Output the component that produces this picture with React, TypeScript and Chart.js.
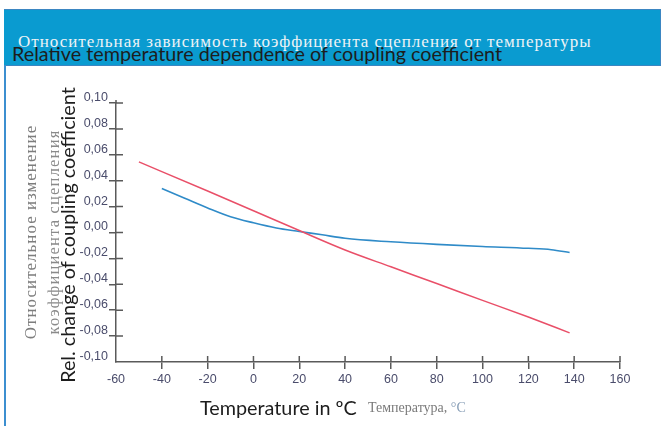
import React, { useEffect, useRef } from "react";
import { Chart, registerables } from "chart.js";

Chart.register(...registerables);

// ---- data ----
const xTicks = [-60, -40, -20, 0, 20, 40, 60, 80, 100, 120, 140, 160];
const yTicks = [-0.1, -0.08, -0.06, -0.04, -0.02, 0, 0.02, 0.04, 0.06, 0.08, 0.1];

const redTemps = [-50, -20, 0, 20, 40, 60, 80, 100, 120, 138];
const redValues = [0.0545, 0.032, 0.0168, 0.0015, -0.0135, -0.0265, -0.0394, -0.0524, -0.0653, -0.0775];

const blueTemps = [-40, -30, -20, -10, 0, 10, 20, 30, 40, 60, 80, 100, 120, 130, 138];
const blueValues = [0.034, 0.0265, 0.019, 0.0122, 0.0075, 0.0035, 0.0008, -0.0018, -0.0045, -0.0072, -0.0092, -0.0108, -0.0122, -0.0133, -0.0155];

const titleRu = "Относительная зависимость коэффициента сцепления от температуры";
const titleEn = "Relative temperature dependence of coupling coefficient";
const yTitleRu1 = "Относительное изменение";
const yTitleRu2 = "коэффициента сцепления";
const yTitleEn = "Rel. change of coupling coefficient";
const xTitleEn = "Temperature in ºC";
const xTitleRu = "Температура,";
const xTitleRuUnit = "°C";

// ---- styles ----
const AXIS = "#5a5a5a";
const TICK_LABEL = "#4a4c6b";
const RED = "#e94f68";
const BLUE = "#2f8bc8";
const BAND = "#0a9bd0";
const SANS = "Lato, 'Open Sans', sans-serif";
const SERIF = "'Liberation Serif', 'DejaVu Serif', serif";
const TICK_FONT = "'Liberation Sans', Arial, sans-serif";
const EN_SIZE = 19.8;

const innerTicks = {
  id: "innerTicks",
  beforeDatasetsDraw(chart: any) {
    const { ctx, chartArea } = chart;
    const xs = chart.scales.x;
    const ys = chart.scales.y;
    ctx.save();
    ctx.strokeStyle = AXIS;
    ctx.lineWidth = 1.5;
    ctx.beginPath();
    xs.ticks.forEach((t: any) => {
      if (t.value === xs.min) return;
      const px = xs.getPixelForValue(t.value);
      ctx.moveTo(px, chartArea.bottom);
      ctx.lineTo(px, chartArea.bottom - 6);
    });
    ys.ticks.forEach((t: any) => {
      if (t.value === ys.min) return;
      const py = ys.getPixelForValue(t.value);
      ctx.moveTo(chartArea.left, py);
      ctx.lineTo(chartArea.left + 7, py);
    });
    ctx.moveTo(chartArea.left, chartArea.top);
    ctx.lineTo(chartArea.left, chartArea.top - 3);
    ctx.stroke();
    ctx.restore();
  },
};

function fmt(v: number) {
  const n = Math.abs(v) < 1e-9 ? 0 : v;
  return n.toFixed(2).replace(".", ",");
}

export default function App() {
  const ref = useRef<HTMLCanvasElement | null>(null);

  useEffect(() => {
    if (!ref.current) return;
    const chart = new Chart(ref.current, {
      type: "line",
      data: {
        datasets: [
          {
            data: redTemps.map((t, i) => ({ x: t, y: redValues[i] })),
            borderColor: RED,
            borderWidth: 1.5,
            pointRadius: 0,
            cubicInterpolationMode: "monotone",
          },
          {
            data: blueTemps.map((t, i) => ({ x: t, y: blueValues[i] })),
            borderColor: BLUE,
            borderWidth: 1.6,
            pointRadius: 0,
            cubicInterpolationMode: "monotone",
          },
        ],
      },
      options: {
        responsive: false,
        animation: false,
        events: [],
        layout: { padding: { left: 76, right: 43, top: 103, bottom: 34 } },
        plugins: { legend: { display: false }, tooltip: { enabled: false } },
        scales: {
          x: {
            type: "linear",
            min: -60,
            max: 160,
            afterBuildTicks: (s: any) => {
              s.ticks = xTicks.map((v) => ({ value: v }));
            },
            afterFit: (s: any) => {
              s.height = 30;
            },
            ticks: {
              autoSkip: false,
              maxRotation: 0,
              padding: 3,
              color: TICK_LABEL,
              font: { family: TICK_FONT, size: 12.5 },
              callback: (v: any) => String(v),
            },
            grid: {
              drawOnChartArea: false,
              drawTicks: true,
              tickLength: 7,
              lineWidth: 1.5,
              color: (c: any) => (c.tick && c.tick.value === -60 ? "rgba(0,0,0,0)" : AXIS),
            },
            border: { display: true, color: AXIS, width: 1.5 },
          },
          y: {
            type: "linear",
            min: -0.1,
            max: 0.1,
            afterBuildTicks: (s: any) => {
              s.ticks = yTicks.map((v) => ({ value: v }));
            },
            afterFit: (s: any) => {
              s.width = 40;
            },
            ticks: {
              autoSkip: false,
              padding: 1,
              labelOffset: -5.5,
              color: TICK_LABEL,
              font: { family: TICK_FONT, size: 12.5 },
              callback: (v: any) => fmt(Number(v)),
            },
            grid: {
              drawOnChartArea: false,
              drawTicks: true,
              tickLength: 7,
              lineWidth: 1.5,
              color: (c: any) => (c.tick && Math.abs(c.tick.value + 0.1) < 1e-9 ? "rgba(0,0,0,0)" : AXIS),
            },
            border: { display: true, color: AXIS, width: 1.5 },
          },
        },
      },
      plugins: [innerTicks],
    } as any);
    return () => chart.destroy();
  }, []);

  const rot = (cx: number, cy: number): React.CSSProperties => ({
    position: "absolute",
    left: cx,
    top: cy,
    transform: "translate(-50%, -50%) rotate(-90deg)",
    whiteSpace: "nowrap",
    lineHeight: 1,
  });

  return (
    <div
      style={{
        position: "fixed",
        left: 0,
        top: 0,
        width: 663,
        height: 426,
        background: "#fff",
        overflow: "hidden",
      }}
    >
      <div
        style={{
          position: "absolute",
          left: 4,
          top: 9,
          width: 656,
          height: 55,
          background: BAND,
          borderTop: "1px solid #3b86c2",
          borderBottom: "1px solid #3b86c2",
          borderRight: "1px solid #3b86c2",
        }}
      />
      <div
        style={{
          position: "absolute",
          left: 4,
          top: 65,
          width: 2,
          height: 361,
          background: "#3c8fd0",
        }}
      />
      <div
        style={{
          position: "absolute",
          left: 18,
          top: 32.5,
          fontFamily: SERIF,
          fontSize: 17,
          letterSpacing: 1,
          lineHeight: 1,
          color: "#eef3f6",
          whiteSpace: "nowrap",
        }}
      >
        {titleRu}
      </div>
      <div
        style={{
          position: "absolute",
          left: 12,
          top: 43.5,
          fontFamily: SANS,
          fontSize: EN_SIZE,
          lineHeight: 1,
          color: "#1d1d1d",
          whiteSpace: "nowrap",
        }}
      >
        {titleEn}
      </div>
      <canvas
        ref={ref}
        width={663}
        height={426}
        style={{ position: "absolute", left: 0, top: 0, width: 663, height: 426 }}
      />
      <div style={{ ...rot(30, 232), fontFamily: SERIF, fontSize: 17, letterSpacing: 1, color: "#7d7d7d" }}>{yTitleRu1}</div>
      <div style={{ ...rot(54, 232), fontFamily: SERIF, fontSize: 16.5, letterSpacing: 1.2, color: "#8a8a8a" }}>{yTitleRu2}</div>
      <div style={{ ...rot(68, 235), fontFamily: SANS, fontSize: EN_SIZE, color: "#1d1d1d" }}>{yTitleEn}</div>
      <div
        style={{
          position: "absolute",
          left: 200,
          top: 398,
          fontFamily: SANS,
          fontSize: EN_SIZE,
          lineHeight: 1,
          color: "#1d1d1d",
          whiteSpace: "nowrap",
        }}
      >
        {xTitleEn}
      </div>
      <div
        style={{
          position: "absolute",
          left: 368,
          top: 401,
          fontFamily: SERIF,
          fontSize: 14,
          lineHeight: 1,
          color: "#7a7a7a",
          whiteSpace: "nowrap",
        }}
      >
        {xTitleRu} <span style={{ color: "#8aa0b8" }}>{xTitleRuUnit}</span>
      </div>
    </div>
  );
}
